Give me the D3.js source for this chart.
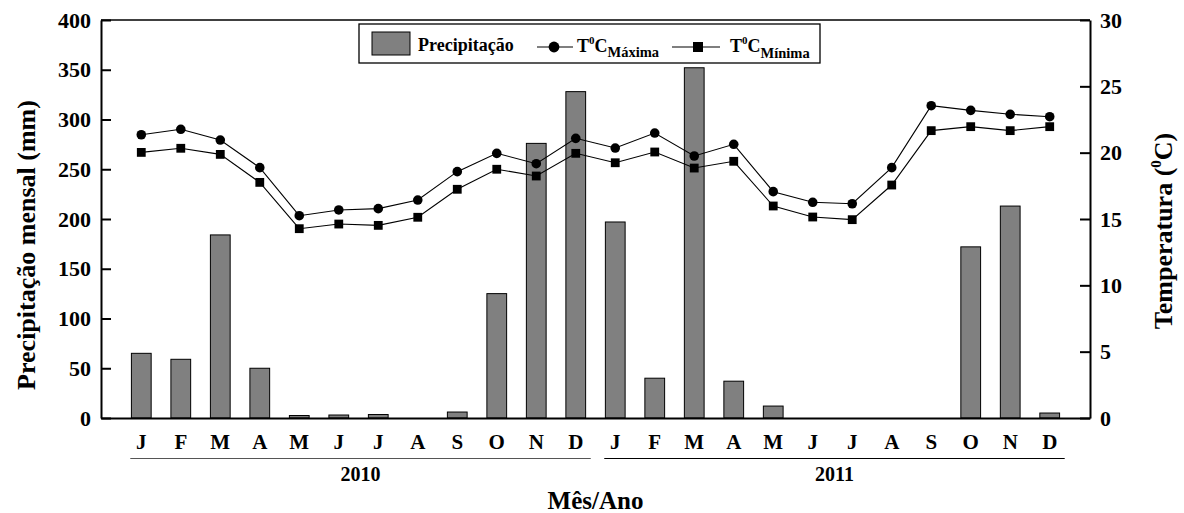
<!DOCTYPE html>
<html><head><meta charset="utf-8">
<script src="https://cdn.jsdelivr.net/npm/d3@7"></script>
<style>
html,body{margin:0;padding:0;background:#fff;}
svg text{font-family:"Liberation Serif","Times New Roman",serif;font-weight:bold;fill:#000;}
</style></head>
<body>
<svg id="chart" width="1184" height="513"></svg>
<script>
const months = ["J","F","M","A","M","J","J","A","S","O","N","D","J","F","M","A","M","J","J","A","S","O","N","D"];
const years = ["2010","2011"];
const precip = [65,59,184,50,2.5,3,3.5,0,6,125,276,328, 197,40,352,37,12,0,0,0,0,172,213,5];
const tMax = [21.35,21.76,20.95,18.87,15.25,15.68,15.78,16.43,18.57,19.95,19.17,21.08, 20.35,21.48,19.75,20.63,17.06,16.26,16.15,18.87,23.54,23.19,22.89,22.71];
const tMin = [20.02,20.33,19.87,17.76,14.27,14.62,14.52,15.13,17.24,18.75,18.24,19.95, 19.24,20.05,18.84,19.35,15.98,15.15,14.95,17.56,21.66,21.96,21.66,21.96];
const leftTicks = [0,50,100,150,200,250,300,350,400];
const rightTicks = [0,5,10,15,20,25,30];

const svg = d3.select("#chart");
const L = 101, R = 1090, T = 20, B = 418;
const idx = d3.range(months.length);
const x = d3.scaleBand().domain(idx).range([L, R]).paddingInner(0.5).paddingOuter(0.77);
const yP = d3.scaleLinear().domain([0,400]).range([B, T]);
const yT = d3.scaleLinear().domain([0,30]).range([B, T]);
const cx = i => x(i) + x.bandwidth()/2;
const FONT = "'Liberation Serif','Times New Roman',serif";

// bars
svg.append("g").selectAll("rect").data(idx.filter(i => precip[i] > 0)).join("rect")
  .attr("x", i => x(i)).attr("width", x.bandwidth())
  .attr("y", i => yP(precip[i])).attr("height", i => B - yP(precip[i]))
  .attr("fill", "#808080").attr("stroke", "#000").attr("stroke-width", 1);

// lines
const lineMax = d3.line().x(i => cx(i)).y(i => yT(tMax[i]));
const lineMin = d3.line().x(i => cx(i)).y(i => yT(tMin[i]));
svg.append("path").attr("d", lineMax(idx)).attr("fill","none").attr("stroke","#000").attr("stroke-width",1.1);
svg.append("path").attr("d", lineMin(idx)).attr("fill","none").attr("stroke","#000").attr("stroke-width",1.1);
svg.append("g").selectAll("circle").data(idx).join("circle")
  .attr("cx", cx).attr("cy", i => yT(tMax[i])).attr("r", 4.8).attr("fill","#000");
const sq = 8.8;
svg.append("g").selectAll("rect").data(idx).join("rect")
  .attr("x", i => cx(i)-sq/2).attr("y", i => yT(tMin[i])-sq/2).attr("width", sq).attr("height", sq).attr("fill","#000");

// axes
const axL = svg.append("g").attr("transform", `translate(${L},0)`)
  .call(d3.axisLeft(yP).tickValues(leftTicks).tickSize(-10).tickSizeOuter(0).tickPadding(10).tickFormat(d3.format("d")));
const axR = svg.append("g").attr("transform", `translate(${R},0)`)
  .call(d3.axisRight(yT).tickValues(rightTicks).tickSize(-10).tickSizeOuter(0).tickPadding(10).tickFormat(d3.format("d")));
const axB = svg.append("g").attr("transform", `translate(0,${B})`)
  .call(d3.axisBottom(x).tickSize(0).tickPadding(16).tickFormat(i => months[i]));
[axL, axR, axB].forEach(a => {
  a.attr("font-size", null).attr("font-family", null);
  a.selectAll("text").style("font-size", "22px").style("font-family", FONT).style("font-weight","bold");
  a.selectAll("line").attr("stroke","#000").attr("stroke-width",2);
  a.select(".domain").attr("stroke","#000").attr("stroke-width",2);
});
axB.selectAll("text").style("font-size", "21px");
// top frame
svg.append("line").attr("x1", L).attr("x2", R).attr("y1", T).attr("y2", T).attr("stroke","#000").attr("stroke-width",1.6);

// year underlines & labels
years.forEach((yr, k) => {
  const i0 = k*12, i1 = k*12 + 11;
  svg.append("line").attr("x1", cx(i0)-11).attr("x2", cx(i1)+15).attr("y1", 458.5).attr("y2", 458.5)
    .attr("stroke", k === 0 ? "#555" : "#000").attr("stroke-width", 1.2);
  svg.append("text").attr("x", (cx(i0)-11 + cx(i1)+15)/2).attr("y", 481).attr("text-anchor","middle")
    .attr("font-size", 20).text(yr);
});

// axis titles
svg.append("text").attr("x", (L+R)/2).attr("y", 509).attr("text-anchor","middle").attr("font-size", 25).text("Mês/Ano");
svg.append("text").attr("transform", `translate(35,${(T+B)/2 + 26}) rotate(-90)`).attr("text-anchor","middle")
  .attr("font-size", 26).text("Precipitação mensal (mm)");
const rt = svg.append("text").attr("transform", `translate(1172,${(T+B)/2 + 12}) rotate(-90)`).attr("text-anchor","middle").attr("font-size", 26);
rt.append("tspan").text("Temperatura (");
rt.append("tspan").attr("font-size", 15).attr("dy", -11).text("0");
rt.append("tspan").attr("dy", 11).text("C)");

// legend
const lg = svg.append("g");
lg.append("rect").attr("x", 359).attr("y", 24).attr("width", 461).attr("height", 39)
  .attr("fill","#fff").attr("stroke","#000").attr("stroke-width",1.3);
lg.append("rect").attr("x", 372).attr("y", 32).attr("width", 38).attr("height", 23)
  .attr("fill","#808080").attr("stroke","#000").attr("stroke-width",1);
lg.append("text").attr("x", 418).attr("y", 51).attr("font-size", 18).text("Precipitação");
lg.append("line").attr("x1", 537).attr("x2", 573).attr("y1", 47).attr("y2", 47).attr("stroke","#000").attr("stroke-width",1.1);
lg.append("circle").attr("cx", 554).attr("cy", 47).attr("r", 5.4).attr("fill","#000");
const t1 = lg.append("text").attr("x", 577).attr("y", 52).attr("font-size", 18);
t1.append("tspan").text("T");
t1.append("tspan").attr("font-size", 11).attr("dy", -8).text("0");
t1.append("tspan").attr("dy", 8).text("C");
t1.append("tspan").attr("font-size", 14.5).attr("dy", 5).text("Máxima");
lg.append("line").attr("x1", 672).attr("x2", 720).attr("y1", 47).attr("y2", 47).attr("stroke","#000").attr("stroke-width",1.1);
lg.append("rect").attr("x", 693).attr("y", 42).attr("width", 10).attr("height", 10).attr("fill","#000");
const t2 = lg.append("text").attr("x", 730).attr("y", 52).attr("font-size", 18);
t2.append("tspan").text("T");
t2.append("tspan").attr("font-size", 11).attr("dy", -8).text("0");
t2.append("tspan").attr("dy", 8).text("C");
t2.append("tspan").attr("font-size", 14.5).attr("dy", 6).text("Mínima");
</script>
</body></html>
